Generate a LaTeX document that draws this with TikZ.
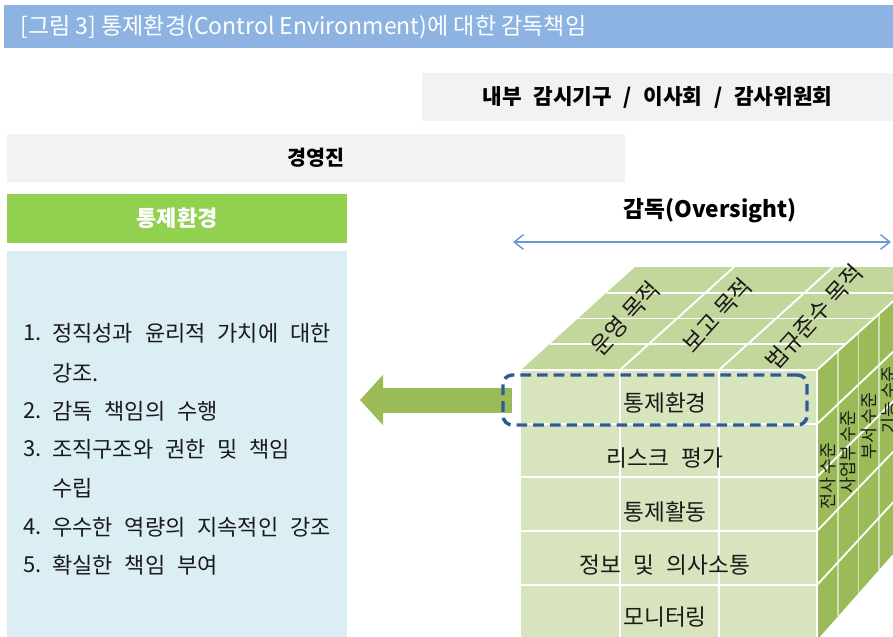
\documentclass[tikz,border=0pt]{standalone}
\usepackage{fontspec}
\setmainfont{Noto Sans CJK KR}
\newfontfamily\spacedfont{Noto Sans CJK KR}[WordSpace=1.5]
\newfontfamily\widefont{Noto Sans CJK KR}[WordSpace=2.4]
\usetikzlibrary{positioning,arrows.meta}

\definecolor{titleblue}{HTML}{8DB3E2}
\definecolor{bandgray}{HTML}{F2F2F2}
\definecolor{headgreen}{HTML}{92D050}
\definecolor{listblue}{HTML}{DBEEF4}
\definecolor{frontgreen}{HTML}{D7E4BD}
\definecolor{topgreen}{HTML}{C3D69B}
\definecolor{sidegreen}{HTML}{9BBB59}
\definecolor{dashblue}{HTML}{2E5A96}
\definecolor{overblue}{HTML}{6C97D2}
\definecolor{inktext}{HTML}{1A1A1A}

\tikzset{
  titlebar/.style={fill=titleblue, minimum width=666.75pt, minimum height=32.25pt, inner sep=0pt},
  titletext/.style={text=white, inner sep=0pt, font=\fontsize{17.3}{20}\selectfont},
  grayband/.style={fill=bandgray, minimum height=36pt, inner sep=0pt},
  greenhead/.style={fill=headgreen, text=white, minimum width=255pt, minimum height=36.75pt,
    inner sep=0pt, font=\bfseries\fontsize{16.5}{19}\selectfont},
  listbox/.style={fill=listblue, minimum width=255pt, minimum height=291.75pt, inner sep=0pt},
  listnum/.style={anchor=west, inner sep=0pt, text=inktext, font=\fontsize{16.5}{19}\selectfont},
  listtxt/.style={anchor=west, inner sep=0pt, text=inktext, font=\spacedfont\fontsize{16.5}{19}\selectfont},
  cubeline/.style={draw=white, line width=1.4pt},
  sliceline/.style={draw=white!55!sidegreen, line width=0.9pt},
  rowtxt/.style={inner sep=0pt, text=inktext, font=\spacedfont\fontsize{17}{20}\selectfont},
  toptxt/.style={inner sep=0pt, text=inktext, rotate=48, font=\fontsize{17.2}{20}\selectfont},
  sidetxt/.style={inner sep=0pt, text=inktext, rotate=90, font=\fontsize{13}{16}\selectfont},
  ctlarrow/.style={draw=sidegreen, line width=18.75pt,
    -{Triangle[length=17.25pt,width=36.75pt]}},
  focusbox/.style={draw=dashblue, line width=2.6pt, rounded corners=7pt,
    dash pattern=on 8pt off 4.5pt, minimum width=228pt, minimum height=37.5pt},
  overarrow/.style={draw=overblue, line width=1.1pt,
    {Straight Barb[length=7pt,width=11pt]}-{Straight Barb[length=7pt,width=11pt]}}
}

\begin{document}
\begin{tikzpicture}[x=0.75pt,y=-0.75pt]
\useasboundingbox (0,0) rectangle (893,636);
\clip (0,0) rectangle (893,636);

% title and bands
\node[titlebar, anchor=north west] (bar) at (4,5) {};
\node[titletext, anchor=west] (title) at (20,27) {[그림 3] 통제환경(Control Environment)에 대한 감독책임};
\node[grayband, minimum width=353.25pt, font=\widefont\bfseries\fontsize{16}{19}\selectfont]
  (board) at (657.5,97) {내부 감시기구 / 이사회 / 감사위원회};
\node[grayband, minimum width=463.5pt, font=\bfseries\fontsize{15.5}{18}\selectfont]
  (mgmt) at (316,158) {경영진};

% left panel
\node[greenhead] (cehead) at (177,218.5) {통제환경};
\node[listbox] (cebox) at (177,445.5) {};
\node[listnum] (n1) at (23,333) {1.};
\node[listtxt] (t1) at (52,333) {정직성과 윤리적 가치에 대한};
\node[listtxt] (t1b) at (52,373) {강조.};
\node[listnum] (n2) at (23,411) {2.};
\node[listtxt] (t2) at (52,411) {감독 책임의 수행};
\node[listnum] (n3) at (23,449) {3.};
\node[listtxt] (t3) at (52,449) {조직구조와 권한 및 책임};
\node[listtxt] (t3b) at (52,488) {수립};
\node[listnum] (n4) at (23,527) {4.};
\node[listtxt] (t4) at (52,527) {우수한 역량의 지속적인 강조};
\node[listnum] (n5) at (23,565) {5.};
\node[listtxt] (t5) at (52,565) {확실한 책임 부여};

% oversight
\node[font=\bfseries\fontsize{17}{20}\selectfont, inner sep=0pt] (over) at (710,211) {감독(Oversight)};
\coordinate (ovL) at (513,242);
\coordinate (ovR) at (891,242);
\draw[overarrow] (ovL) -- (ovR);

% cube: front face
\fill[frontgreen] (521,370) rectangle (817,640);
\foreach \y in {424,477,531,585}
  \draw[cubeline] (521,\y) -- (817,\y);
\foreach \x in {620,719}
  \draw[cubeline] (\x,370) -- (\x,640);

% cube: top face
\fill[topgreen] (521,370) -- (817,370) -- (931,267) -- (635,267) -- cycle;
\foreach \k in {1,2,3}
  \draw[cubeline] ({521+28.5*\k},{370-25.75*\k}) -- ({817+28.5*\k},{370-25.75*\k});
\foreach \x in {620,719}
  \draw[cubeline] (\x,370) -- ++(114,-103);

% cube: side face
\fill[sidegreen] (817,370) -- (931,267) -- (931,511) -- (817,640) -- cycle;
\foreach \x in {838,858.5,879,899.5,920}
  \draw[sliceline] (\x,{370-(\x-817)*0.9035}) -- (\x,{640-(\x-817)*1.13});
\foreach \y in {424,477,531,585}
  \draw[cubeline] (817,\y) -- (931,{267+(\y-370)*0.9037});
\draw[cubeline] (521,370) -- (817,370) -- (931,267);
\draw[cubeline] (817,370) -- (817,640);

% cube labels
\node[rowtxt] (r1) at (665,403) {통제환경};
\node[rowtxt] (r2) at (665,458) {리스크 평가};
\node[rowtxt] (r3) at (665,512) {통제활동};
\node[rowtxt] (r4) at (665,565) {정보 및 의사소통};
\node[rowtxt] (r5) at (665,617) {모니터링};
\node[toptxt] (o1) at (625,318) {운영 목적};
\node[toptxt] (o2) at (717,315) {보고 목적};
\node[toptxt] (o3) at (814,317) {법규준수 목적};
\node[sidetxt] (s1) at (828,476) {전사 수준};
\node[sidetxt] (s2) at (848,452) {사업부 수준};
\node[sidetxt] (s3) at (869,426) {부서 수준};
\node[sidetxt] (s4) at (889,400) {기능 수준};

% arrow back to the panel
\coordinate (arrS) at (512,400);
\coordinate (arrT) at (360,400);
\draw[ctlarrow] (arrS) -- (arrT);
\node[focusbox] (focus) at (655,400) {};

\end{tikzpicture}
\end{document}
